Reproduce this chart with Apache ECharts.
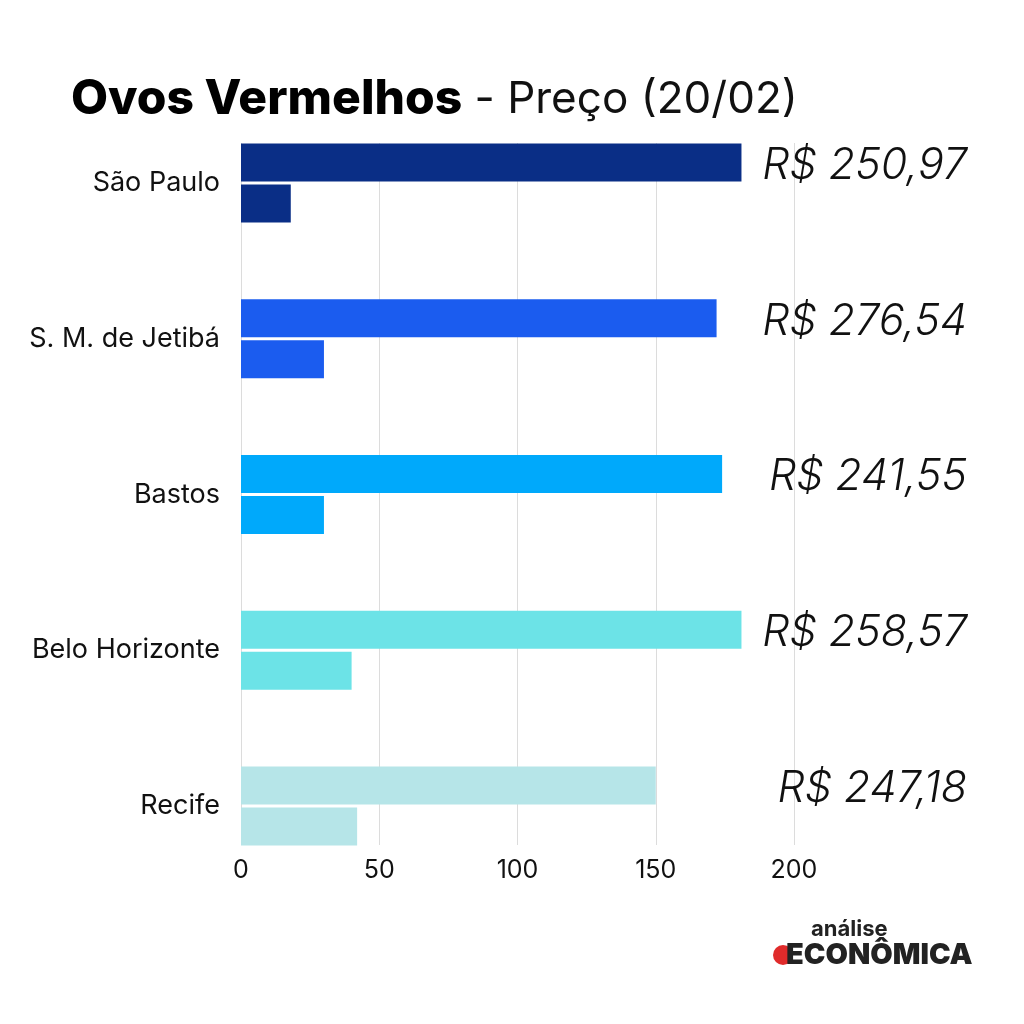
<!DOCTYPE html>
<html>
<head>
<meta charset="utf-8">
<script src="https://cdn.jsdelivr.net/npm/echarts@6/dist/echarts.min.js"></script>
<style>
html,body{margin:0;padding:0;background:#fff;}
#c{width:1024px;height:1024px;}
</style>
</head>
<body>
<div id="c"></div>
<script>
// ---- data ----
const cities = ['São Paulo', 'S. M. de Jetibá', 'Bastos', 'Belo Horizonte', 'Recife'];
const priceLabels = ['R$ 250,97', 'R$ 276,54', 'R$ 241,55', 'R$ 258,57', 'R$ 247,18'];
const longBar = [181, 172, 174, 181, 150];
const shortBar = [18, 30, 30, 40, 42];
const cityColors = ['#0a2e86', '#1b5cef', '#00a9fb', '#6ce3e7', '#b6e5e8'];
const xTicks = [0, 50, 100, 150, 200];

const chart = echarts.init(document.getElementById('c'), null, {renderer: 'canvas'});
const sans = 'Inter, "Noto Sans", sans-serif';

const option = {
  backgroundColor: '#ffffff',
  animation: false,
  title: {
    text: '{b|Ovos Vermelhos}{r| - Preço (20/02)}',
    left: 66,
    top: 71,
    textStyle: {
      rich: {
        b: {fontFamily: sans, fontWeight: 800, fontSize: 48, color: '#000'},
        r: {fontFamily: sans, fontWeight: 400, fontSize: 44, color: '#111'}
      }
    }
  },
  grid: [
    {left: 241, right: 230, top: 143, bottom: 179},
    {left: 241, right: 230, top: 105, bottom: 140}
  ],
  xAxis: [
    {
      gridIndex: 0, type: 'value', min: xTicks[0], max: xTicks[xTicks.length - 1], interval: 50,
      axisLine: {show: false}, axisTick: {show: false},
      splitLine: {show: true, lineStyle: {color: '#dcdcdc', width: 1}},
      axisLabel: {margin: 13, fontFamily: sans, fontSize: 25, color: '#111'}
    },
    {
      gridIndex: 1, type: 'value', min: xTicks[0], max: xTicks[xTicks.length - 1], interval: 50,
      show: false
    }
  ],
  yAxis: [
    {
      gridIndex: 0, type: 'category', data: cities, show: false
    },
    {
      gridIndex: 1, type: 'category', data: cities, inverse: true,
      axisLine: {show: false}, axisTick: {show: false}, splitLine: {show: false},
      axisLabel: {margin: 21, fontFamily: sans, fontSize: 27, color: '#111'}
    },
    {
      gridIndex: 1, type: 'category', data: priceLabels, inverse: true, position: 'right',
      axisLine: {show: false}, axisTick: {show: false}, splitLine: {show: false},
      axisLabel: {
        margin: 173, align: 'right', verticalAlign: 'bottom', lineHeight: 34,
        fontFamily: sans, fontStyle: 'italic', fontWeight: 300,
        fontSize: 43, color: '#111'
      }
    }
  ],
  series: [
    {
      type: 'bar', xAxisIndex: 1, yAxisIndex: 1,
      barWidth: 38, barGap: '8%',
      data: longBar.map((v, i) => ({value: v, itemStyle: {color: cityColors[i]}}))
    },
    {
      type: 'bar', xAxisIndex: 1, yAxisIndex: 1,
      barWidth: 38, barGap: '8%',
      data: shortBar.map((v, i) => ({value: v, itemStyle: {color: cityColors[i]}}))
    }
  ],
  graphic: [
    {type: 'circle', left: 773, top: 945, shape: {r: 10}, style: {fill: '#e02b2b'}},
    {type: 'text', left: 811, top: 918, style: {text: 'análise', fontFamily: sans, fontWeight: 700, fontSize: 22, fill: '#222'}},
    {type: 'text', left: 786, top: 941, style: {text: 'ECONÔMICA', fontFamily: sans, fontWeight: 900, fontSize: 29, fill: '#222'}}
  ]
};
chart.setOption(option);
</script>
</body>
</html>
